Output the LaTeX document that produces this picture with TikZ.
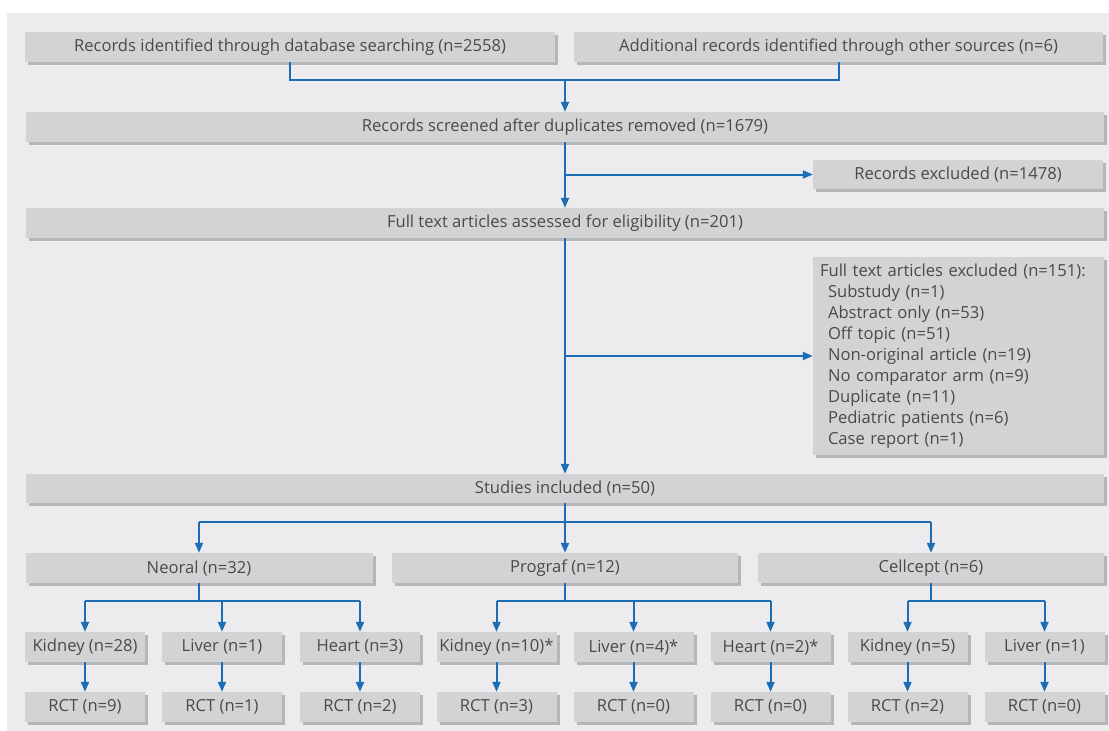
\documentclass[tikz,border=0pt]{standalone}
\usepackage{fontspec}
\setmainfont{Open Sans}
\usetikzlibrary{arrows.meta,shadows}
\definecolor{panel}{HTML}{ECECEE}
\definecolor{boxc}{HTML}{D3D3D5}
\definecolor{shad}{HTML}{B6B6B8}
\definecolor{txt}{HTML}{4A4A4C}
\definecolor{arrc}{HTML}{1B6DB6}
\tikzset{
  box/.style={fill=boxc, draw=none, text=txt, inner sep=0pt, minimum height=30pt,
    font=\fontsize{16.6}{21}\selectfont,
    drop shadow={shadow xshift=3pt, shadow yshift=-3pt, fill=shad, opacity=1}},
  sbox/.style={box, minimum width=120pt},
  conn/.style={draw=arrc, line width=2pt},
  arr/.style={conn, -{Triangle[length=10pt,width=8pt]}}
}
\begin{document}
\begin{tikzpicture}[x=1pt,y=-1pt]
\useasboundingbox (0,0) rectangle (1109,731);
\fill[white] (0,0) rectangle (1109,731);
\fill[panel] (7,13) rectangle (1109,731);

\node[box, minimum width=530pt] (A) at (290,47) {Records identified through database searching (n=2558)};
\node[box, minimum width=529pt] (B) at (838.5,47) {Additional records identified through other sources (n=6)};
\node[box, minimum width=1078pt] (scr) at (565,127) {Records screened after duplicates removed (n=1679)};
\node[box, minimum width=290pt, minimum height=29pt] (ex1) at (958,174.5) {Records excluded (n=1478)};
\node[box, minimum width=1078pt] (ft) at (565,223) {Full text articles assessed for eligibility (n=201)};
\node[box, minimum width=291pt, minimum height=198pt, text width=277pt, inner xsep=7pt, align=left] (ex2) at (958.5,356) {Full text articles excluded (n=151):\\
\hspace*{8pt}Substudy (n=1)\\
\hspace*{8pt}Abstract only (n=53)\\
\hspace*{8pt}Off topic (n=51)\\
\hspace*{8pt}Non-original article (n=19)\\
\hspace*{8pt}No comparator arm (n=9)\\
\hspace*{8pt}Duplicate (n=11)\\
\hspace*{8pt}Pediatric patients (n=6)\\
\hspace*{8pt}Case report (n=1)};
\node[box, minimum width=1078pt, minimum height=29pt] (st) at (565,488.5) {Studies included (n=50)};

\node[box, minimum width=347pt] (neo) at (199,568) {Neoral (n=32)};
\node[box, minimum width=346pt] (pro) at (565,568) {Prograf (n=12)};
\node[box, minimum width=346pt] (cel) at (931,568) {Cellcept (n=6)};

\node[sbox] (nk) at (85,647) {Kidney (n=28)};
\node[sbox] (nl) at (222,647) {Liver (n=1)};
\node[sbox] (nh) at (360,647) {Heart (n=3)};
\node[sbox] (pk) at (496.5,647) {Kidney (n=10)*};
\node[sbox] (pl) at (633.5,647) {Liver (n=4)*};
\node[sbox] (ph) at (770.5,647) {Heart (n=2)*};
\node[sbox] (ck) at (907.5,647) {Kidney (n=5)};
\node[sbox] (cl) at (1044.5,647) {Liver (n=1)};

\node[sbox] (nkr) at (85,707) {RCT (n=9)};
\node[sbox] (nlr) at (222,707) {RCT (n=1)};
\node[sbox] (nhr) at (360,707) {RCT (n=2)};
\node[sbox] (pkr) at (496.5,707) {RCT (n=3)};
\node[sbox] (plr) at (633.5,707) {RCT (n=0)};
\node[sbox] (phr) at (770.5,707) {RCT (n=0)};
\node[sbox] (ckr) at (907.5,707) {RCT (n=2)};
\node[sbox] (clr) at (1044.5,707) {RCT (n=0)};

% top merge
\coordinate (j1) at (565,80);
\draw[conn] (A.south) |- (j1);
\draw[conn] (B.south) |- (j1);
\draw[arr] (j1) -- (scr.north);
\draw[arr] (scr.south) -- (ft.north);
\draw[arr] (scr.south |- ex1.west) -- (ex1.west);
\draw[arr] (ft.south) -- (st.north);
\draw[arr] (ft.south |- ex2.west) -- (ex2.west);

% studies split
\coordinate (j2) at (565,522);
\draw[conn] (neo.north |- j2) -- (cel.north |- j2);
\draw[arr] (st.south) -- (pro.north);
\draw[arr] (neo.north |- j2) -- (neo.north);
\draw[arr] (cel.north |- j2) -- (cel.north);

% organ splits
\coordinate (j3) at (0,601);
\draw[conn] (neo.south) -- (neo.south |- j3);
\draw[conn] (nk.north |- j3) -- (nh.north |- j3);
\draw[arr] (nk.north |- j3) -- (nk.north);
\draw[arr] (nl.north |- j3) -- (nl.north);
\draw[arr] (nh.north |- j3) -- (nh.north);

\draw[conn] (pro.south) -- (pro.south |- j3);
\draw[conn] (pk.north |- j3) -- (ph.north |- j3);
\draw[arr] (pk.north |- j3) -- (pk.north);
\draw[arr] (pl.north |- j3) -- (pl.north);
\draw[arr] (ph.north |- j3) -- (ph.north);

\draw[conn] (cel.south) -- (cel.south |- j3);
\draw[conn] (ck.north |- j3) -- (cl.north |- j3);
\draw[arr] (ck.north |- j3) -- (ck.north);
\draw[arr] (cl.north |- j3) -- (cl.north);

% RCT arrows
\foreach \o in {nk,nl,nh,pk,pl,ph,ck,cl}{
  \draw[arr] (\o.south) -- (\o r.north);
}
\end{tikzpicture}
\end{document}
